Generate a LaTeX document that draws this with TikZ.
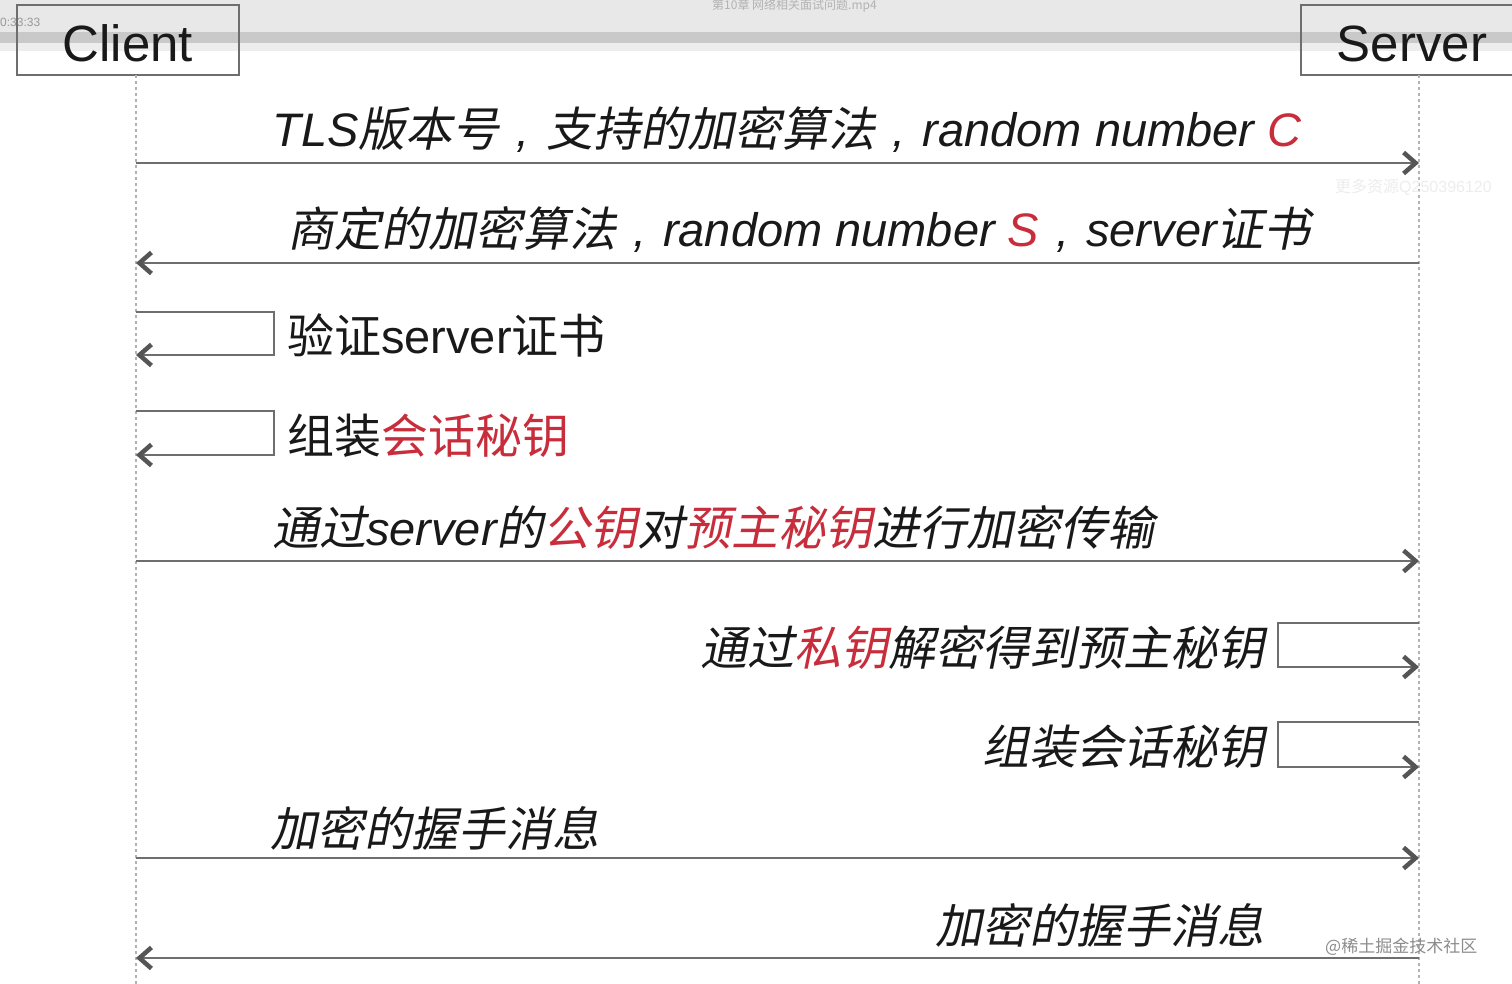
\documentclass[tikz,border=0pt]{standalone}
\usepackage{fontspec}
\setmainfont{Liberation Sans}
\newfontfamily\cjkup{Noto Sans CJK SC}
\newfontfamily\cjkit[FakeSlant=0.2]{Noto Sans CJK SC}
\usetikzlibrary{arrows.meta}
\definecolor{tred}{RGB}{200,45,60}
\definecolor{lgray}{RGB}{110,110,110}
\definecolor{tipgray}{RGB}{85,85,85}
\definecolor{txt}{RGB}{25,25,25}
\newcommand\zu[1]{{\cjkup #1}}
\newcommand\zi[1]{{\cjkit #1}}
\newcommand\zc{\makebox[1em]{,}}
\newcommand\rd[1]{{\color{tred}#1}}
\begin{document}
\begin{tikzpicture}[x=1pt,y=-1pt,
  msg/.style={draw=lgray, line width=2pt, -{Straight Barb[length=12pt,width=21pt,line width=4.5pt,color=tipgray]}},
  loopmsg/.style={msg, line width=2.5pt},
  life/.style={draw=gray!60, line width=1.5pt, dash pattern=on 3pt off 3pt},
  actor/.style={draw=lgray, line width=2.5pt, minimum width=222pt, minimum height=70pt, inner sep=0pt, text height=44pt, text depth=0pt, text=txt, font=\fontsize{51}{51}\selectfont},
  lbl/.style={inner sep=0pt, text=txt, font=\fontsize{47}{47}\selectfont},
  ovl/.style={inner sep=0pt}]
\useasboundingbox (0,0) rectangle (1512,984);
\fill[white] (0,0) rectangle (1512,984);
% player overlay bands
\fill[black!9] (0,0) rectangle (1512,32);
\fill[black!21] (0,32) rectangle (1512,43);
\fill[black!7] (0,43) rectangle (1512,51);
\node[ovl, anchor=west, text=black!40, font=\fontsize{12}{12}\selectfont] (time) at (0,22) {0:33:33};
\node[ovl, anchor=west, text=black!30, font=\fontsize{12}{12}\selectfont] (title) at (712,6) {\zu{第10章 网络相关面试问题.mp4}};
% actors
\node[actor] (client) at (128,40) {Client};
\node[actor] (server) at (1412,40) {Server};
% lifelines
\coordinate (ct) at (136,75);
\coordinate (cb) at (136,984);
\coordinate (st) at (1419,75);
\coordinate (sb) at (1419,984);
\draw[life] (ct) -- (cb);
\draw[life] (st) -- (sb);
% message coordinates
\coordinate (c1) at (136,163); \coordinate (s1) at (1419,163);
\coordinate (c2) at (136,263); \coordinate (s2) at (1419,263);
\coordinate (c5) at (136,561); \coordinate (s5) at (1419,561);
\coordinate (c8) at (136,858); \coordinate (s8) at (1419,858);
\coordinate (c9) at (136,958); \coordinate (s9) at (1419,958);
% self loops client
\coordinate (l3a) at (136,312); \coordinate (l3b) at (274,312); \coordinate (l3c) at (274,355); \coordinate (l3d) at (136,355);
\coordinate (l4a) at (136,411); \coordinate (l4b) at (274,411); \coordinate (l4c) at (274,455); \coordinate (l4d) at (136,455);
% self loops server
\coordinate (l6a) at (1419,623); \coordinate (l6b) at (1278,623); \coordinate (l6c) at (1278,667); \coordinate (l6d) at (1419,667);
\coordinate (l7a) at (1419,722); \coordinate (l7b) at (1278,722); \coordinate (l7c) at (1278,767); \coordinate (l7d) at (1419,767);
% arrows
\draw[msg] (c1) -- (s1);
\draw[msg] (s2) -- (c2);
\draw[loopmsg] (l3a) -- (l3b) -- (l3c) -- (l3d);
\draw[loopmsg] (l4a) -- (l4b) -- (l4c) -- (l4d);
\draw[msg] (c5) -- (s5);
\draw[loopmsg] (l6a) -- (l6b) -- (l6c) -- (l6d);
\draw[loopmsg] (l7a) -- (l7b) -- (l7c) -- (l7d);
\draw[msg] (c8) -- (s8);
\draw[msg] (s9) -- (c9);
% labels
\node[lbl, anchor=base] (m1) at (787,147) {\itshape TLS\zi{版本号}\zc\zi{支持的加密算法}\zc random number \rd{C}};
\node[lbl, anchor=base] (m2) at (799,247) {\itshape \zi{商定的加密算法}\zc random number \rd{S}\zc server\zi{证书}};
\node[lbl, anchor=base west] (m3) at (287,353) {\zu{验证}server\zu{证书}};
\node[lbl, anchor=base west] (m4) at (287,453) {\zu{组装\rd{会话秘钥}}};
\node[lbl, anchor=base west] (m5) at (272,545) {\itshape \zi{通过}server\zi{的\rd{公钥}对\rd{预主秘钥}进行加密传输}};
\node[lbl, anchor=base east] (m6) at (1265,665) {\zi{通过\rd{私钥}解密得到预主秘钥}};
\node[lbl, anchor=base east] (m7) at (1265,764) {\zi{组装会话秘钥}};
\node[lbl, anchor=base west] (m8) at (270,846) {\zi{加密的握手消息}};
\node[lbl, anchor=base east] (m9) at (1265,943) {\zi{加密的握手消息}};
% watermarks
\node[ovl, anchor=west, text=black!7, font=\fontsize{16}{16}\selectfont] (wm1) at (1335,187) {\zu{更多资源}Q250396120};
\node[ovl, anchor=west, text=black!45, font=\fontsize{17}{17}\selectfont] (wm2) at (1325,947) {\zu{@稀土掘金技术社区}};
\end{tikzpicture}
\end{document}
